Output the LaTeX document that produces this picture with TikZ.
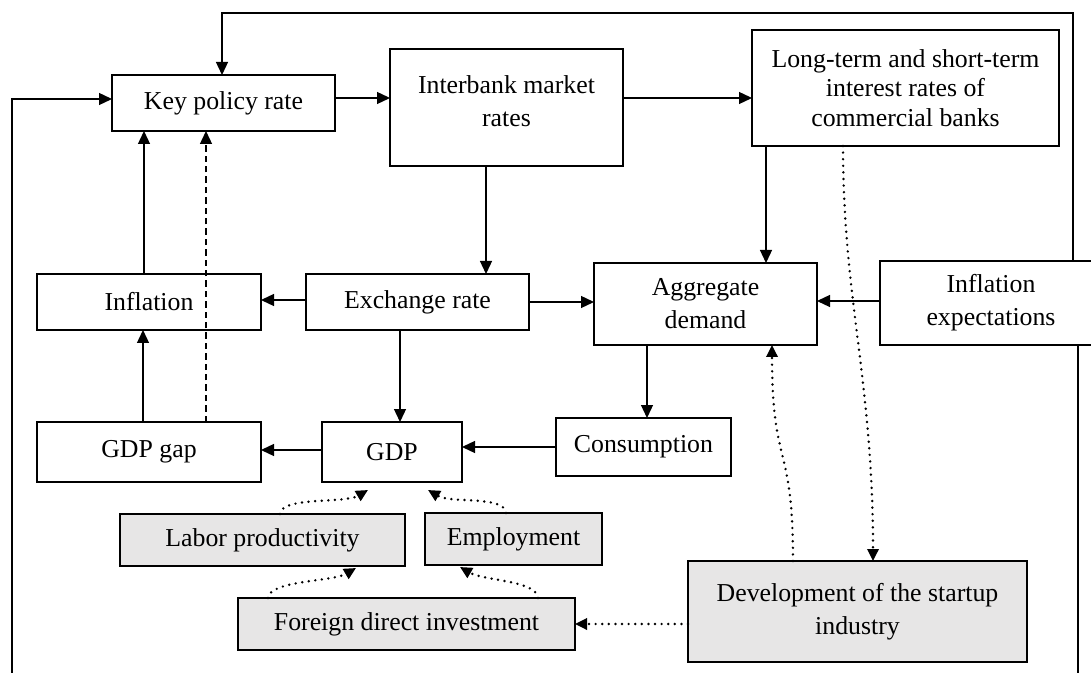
\documentclass[tikz,border=0pt]{standalone}
\usepackage{fontspec}
\setmainfont{Liberation Serif}
\usetikzlibrary{arrows.meta,calc}
\definecolor{boxgray}{HTML}{E7E6E6}
\newcommand\dgfont{\fontsize{12.9pt}{16.5pt}\selectfont}
\newcommand\ltfont{\fontsize{12.9pt}{14.8pt}\selectfont}
\begin{document}
\begin{tikzpicture}[x=0.5pt,y=-0.5pt,
  box/.style={draw, line width=0.9pt, inner sep=0pt, outer sep=0pt, align=center, font=\dgfont},
  gbox/.style={box, fill=boxgray},
  txt/.style={inner sep=0pt, align=center, font=\dgfont},
  arr/.style={line width=0.65pt, -{Triangle[length=6.5pt,width=6pt]}},
  plain/.style={line width=0.65pt},
  dasharr/.style={line width=0.65pt, dash pattern=on 3.2pt off 2pt, -{Triangle[length=6.5pt,width=6pt]}},
  dotarr/.style={line width=1.35pt, line cap=round, dash pattern=on 0pt off 3.3pt, -{Triangle[length=6pt,width=5.6pt]}}]
\clip (0,0) rectangle (1091,673);
\fill[white] (0,0) rectangle (1091,673);

% boxes
\node[box, minimum width=111.5pt, minimum height=28pt] (kpr) at (223.5,103) {Key policy rate};
\node[box, minimum width=116.5pt, minimum height=58.5pt] (ib) at (506.5,107.5) {};
\node[txt] (ibt) at ([yshift=3pt]ib.center) {Interbank market\\rates};
\node[box, font=\ltfont, minimum width=153.5pt, minimum height=58pt] (lt) at (905.5,88) {Long-term and short-term\\interest rates of\\commercial banks};
\node[box, minimum width=112pt, minimum height=28pt] (infl) at (149,302) {Inflation};
\node[box, minimum width=111.5pt, minimum height=28pt] (ex) at (417.5,302) {Exchange rate};
\node[box, minimum width=111.5pt, minimum height=41pt] (ad) at (705.5,304) {Aggregate\\demand};
\node[box, minimum width=111pt, minimum height=42pt] (ie) at (991,303) {Inflation\\expectations};
\node[box, minimum width=112pt, minimum height=30pt] (gap) at (149,452) {GDP gap};
\node[box, minimum width=70pt, minimum height=30pt] (gdp) at (392,452) {GDP};
\node[box, minimum width=87.5pt, minimum height=29pt] (cons) at (643.5,447) {Consumption};
\node[gbox, minimum width=142.5pt, minimum height=26pt] (lp) at (262.5,540) {Labor productivity};
\node[gbox, minimum width=88.5pt, minimum height=26pt] (emp) at (513.5,539) {Employment};
\node[gbox, minimum width=168.5pt, minimum height=26pt] (fdi) at (406.5,624) {Foreign direct investment};
\node[gbox, minimum width=169.5pt, minimum height=50.5pt] (dev) at (857.5,611.5) {Development of the startup\\industry};

% free ends
\coordinate (lbot) at (12,673);
\coordinate (rbot) at (1078,673);
\coordinate (topr) at (1073,13);
\coordinate (topl) at (222,13);

% solid connectors
\draw[arr] (lbot) |- (kpr.west |- 0,99);
\draw[arr] (kpr.east |- 0,98) -- (ib.west |- 0,98);
\draw[arr] (ib.east |- 0,98) -- (lt.west |- 0,98);
\draw[arr] (ib.south -| 486,0) -- (ex.north -| 486,0);
\draw[arr] (lt.south -| 766,0) -- (ad.north -| 766,0);
\draw[arr] (ex.west |- 0,300) -- (infl.east |- 0,300);
\draw[arr] (ex.east |- 0,302) -- (ad.west |- 0,302);
\draw[arr] (ie.west |- 0,301) -- (ad.east |- 0,301);
\draw[arr] (infl.north -| 144,0) -- (kpr.south -| 144,0);
\draw[arr] (gap.north -| 143,0) -- (infl.south -| 143,0);
\draw[dasharr] (gap.north -| 206,0) -- (kpr.south -| 206,0);
\draw[arr] (ex.south -| 400,0) -- (gdp.north -| 400,0);
\draw[arr] (ad.south -| 647,0) -- (cons.north -| 647,0);
\draw[arr] (cons.west |- 0,447) -- (gdp.east |- 0,447);
\draw[arr] (gdp.west |- 0,450) -- (gap.east |- 0,450);
\draw[arr] (ie.north -| topr) -- (topr) -- (topl) -- (kpr.north -| topl);
\draw[plain] (ie.south -| rbot) -- (rbot);

% dotted connectors
\draw[dotarr] (lp.north -| 280,0) .. controls +(2,-18) and +(-24,14) .. ([yshift=-4pt]gdp.south -| 368,0);
\draw[dotarr] (emp.north -| 506,0) .. controls +(-2,-18) and +(24,14) .. ([yshift=-4pt]gdp.south -| 428,0);
\draw[dotarr] (fdi.north -| 268,0) .. controls +(2,-18) and +(-24,14) .. ([yshift=-1pt]lp.south -| 356,0);
\draw[dotarr] (fdi.north -| 538,0) .. controls +(-2,-18) and +(24,14) .. ([yshift=-1pt]emp.south -| 460,0);
\draw[dotarr] (dev.west |- 0,624) -- (fdi.east |- 0,624);
\draw[dotarr] (dev.north -| 793,0) .. controls (793,440) and (772,470) .. (ad.south -| 772,0);
\draw[dotarr] (lt.south -| 843,0) .. controls (843,300) and (873,380) .. (dev.north -| 873,0);
\end{tikzpicture}
\end{document}
